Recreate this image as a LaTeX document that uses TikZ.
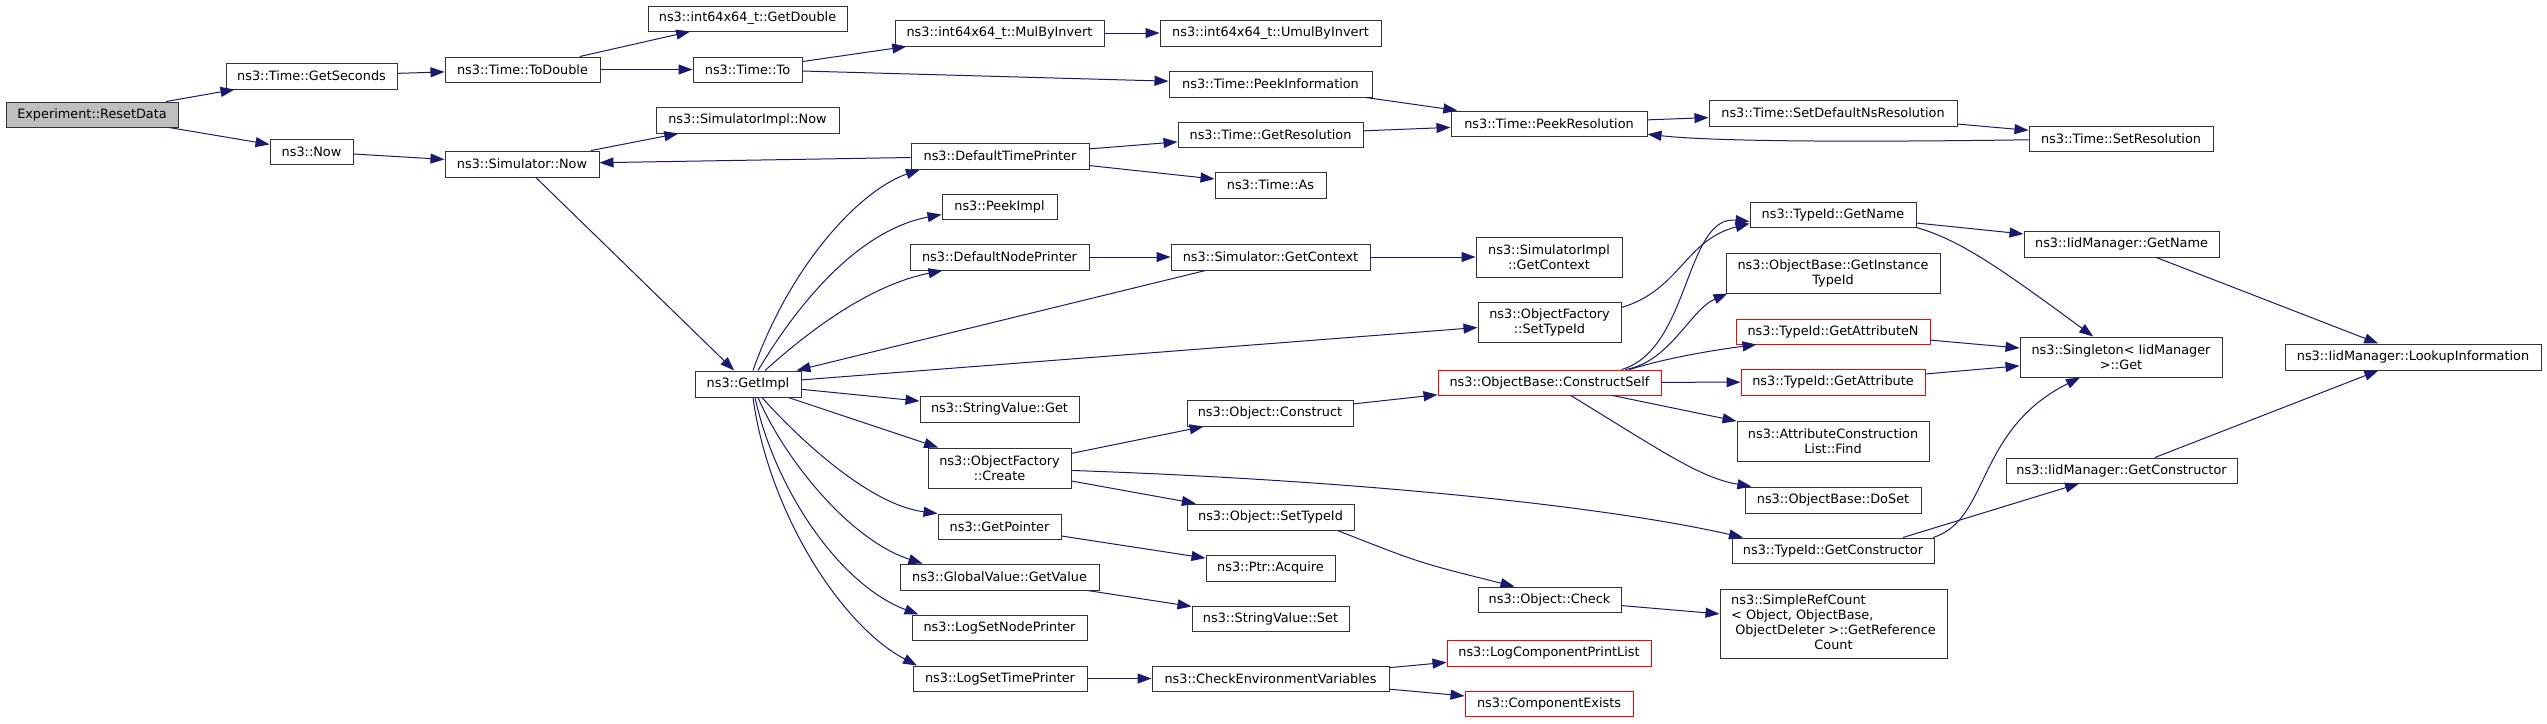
\documentclass[tikz,border=0pt]{standalone}
\usepackage{fontspec}
\setmainfont{DejaVu Sans}
\usetikzlibrary{arrows.meta}
\definecolor{edgeblue}{HTML}{191970}
\definecolor{boxline}{HTML}{333333}
\definecolor{rootfill}{HTML}{BFBFBF}
\begin{document}
\begin{tikzpicture}[x=1pt,y=-1pt,
  box/.style={draw=boxline, line width=1pt, fill=white, inner sep=0pt, align=center,
              font=\fontsize{12.85pt}{15pt}\selectfont},
  redbox/.style={box, draw=red},
  rootbox/.style={box, fill=rootfill},
  wh/.style 2 args={minimum width=#1pt, minimum height=#2pt},
  e/.style={draw=edgeblue, line width=1pt, -{Triangle[length=14pt,width=10pt]}}]
\fill[white] (0,0) rectangle (2547,723);
\useasboundingbox (0,0) rectangle (2547,723);

% nodes
\node[rootbox, wh={172}{25}] (reset) at (92,114.5) {Experiment::ResetData};
\node[box, wh={171}{26}] (getsec) at (311.5,76) {ns3::Time::GetSeconds};
\node[box, wh={83}{25}] (now) at (311.5,151.5) {ns3::Now};
\node[box, wh={199}{25}] (getdouble) at (747.5,18.5) {ns3::int64x64\_t::GetDouble};
\node[box, wh={155}{25}] (todouble) at (522.5,69.5) {ns3::Time::ToDouble};
\node[box, wh={109}{25}] (to) at (747.5,69.5) {ns3::Time::To};
\node[box, wh={183}{26}] (simimplnow) at (747.5,120) {ns3::SimulatorImpl::Now};
\node[box, wh={154}{26}] (simnow) at (522,164) {ns3::Simulator::Now};
\node[box, wh={106}{26}] (getimpl) at (748,384) {ns3::GetImpl};
\node[box, wh={209}{26}] (mulby) at (999.5,33) {ns3::int64x64\_t::MulByInvert};
\node[box, wh={221}{26}] (umul) at (1270.5,33) {ns3::int64x64\_t::UmulByInvert};
\node[box, wh={203}{26}] (peekinfo) at (1270.5,84) {ns3::Time::PeekInformation};
\node[box, wh={185}{25}] (getres) at (1270.5,134.5) {ns3::Time::GetResolution};
\node[box, wh={178}{26}] (dtp) at (1000,156) {ns3::DefaultTimePrinter};
\node[box, wh={111}{26}] (as) at (1270.5,185) {ns3::Time::As};
\node[box, wh={115}{25}] (peekimpl) at (999.5,206.5) {ns3::PeekImpl};
\node[box, wh={179}{26}] (dnp) at (999.5,257) {ns3::DefaultNodePrinter};
\node[box, wh={199}{26}] (simgetctx) at (1270.5,257) {ns3::Simulator::GetContext};
\node[box, wh={196}{25}] (peekres) at (1549,123.5) {ns3::Time::PeekResolution};
\node[box, wh={146}{40}] (simimplgetctx) at (1549,257) {ns3::SimulatorImpl\\::GetContext};
\node[box, wh={143}{40}] (ofsettypeid) at (1549.5,322) {ns3::ObjectFactory\\::SetTypeId};
\node[box, wh={159}{26}] (svget) at (999.5,409) {ns3::StringValue::Get};
\node[box, wh={143}{40}] (ofcreate) at (999.5,468) {ns3::ObjectFactory\\::Create};
\node[box, wh={166}{26}] (objconstruct) at (1270,413) {ns3::Object::Construct};
\node[box, wh={167}{26}] (objsettypeid) at (1270.5,517) {ns3::Object::SetTypeId};
\node[box, wh={123}{25}] (getpointer) at (999.5,526.5) {ns3::GetPointer};
\node[box, wh={129}{26}] (ptracq) at (1270.5,568) {ns3::Ptr::Acquire};
\node[box, wh={199}{26}] (gvgetvalue) at (999.5,577) {ns3::GlobalValue::GetValue};
\node[box, wh={157}{25}] (svset) at (1270.5,618.5) {ns3::StringValue::Set};
\node[box, wh={175}{25}] (lsnp) at (999.5,627.5) {ns3::LogSetNodePrinter};
\node[box, wh={174}{25}] (lstp) at (1000,678.5) {ns3::LogSetTimePrinter};
\node[box, wh={237}{25}] (checkenv) at (1270.5,678.5) {ns3::CheckEnvironmentVariables};
\node[redbox, wh={223}{25}] (constructself) at (1549.5,382.5) {ns3::ObjectBase::ConstructSelf};
\node[box, wh={143}{25}] (objcheck) at (1549.5,599.5) {ns3::Object::Check};
\node[redbox, wh={204}{26}] (lcpl) at (1549,653) {ns3::LogComponentPrintList};
\node[redbox, wh={168}{25}] (compexists) at (1549,703.5) {ns3::ComponentExists};
\node[box, wh={248}{26}] (setdefns) at (1833,113) {ns3::Time::SetDefaultNsResolution};
\node[box, wh={184}{25}] (setres) at (2121,138.5) {ns3::Time::SetResolution};
\node[box, wh={166}{25}] (tgetname) at (1833,214.5) {ns3::TypeId::GetName};
\node[box, wh={195}{26}] (iidgetname) at (2121.5,244) {ns3::IidManager::GetName};
\node[box, wh={214}{40}] (getinstance) at (1833,273) {ns3::ObjectBase::GetInstance\\TypeId};
\node[redbox, wh={194}{25}] (getattrn) at (1833,331.5) {ns3::TypeId::GetAttributeN};
\node[box, wh={202}{40}] (singleton) at (2121,357) {ns3::Singleton< IidManager\\ >::Get};
\node[redbox, wh={184}{26}] (getattr) at (1833,382) {ns3::TypeId::GetAttribute};
\node[box, wh={192}{40}] (acfind) at (1833,441) {ns3::AttributeConstruction\\List::Find};
\node[box, wh={176}{26}] (doset) at (1833,500) {ns3::ObjectBase::DoSet};
\node[box, wh={202}{25}] (tgetctor) at (1833,550.5) {ns3::TypeId::GetConstructor};
\node[box, wh={227}{69}] (simpleref) at (1833.5,623.5) {\begin{tabular}{@{}l@{}}ns3::SimpleRefCount\\< Object, ObjectBase,\\\ ObjectDeleter >::GetReference\\\multicolumn{1}{@{}c@{}}{Count}\end{tabular}};
\node[box, wh={231}{25}] (iidgetctor) at (2121.5,470.5) {ns3::IidManager::GetConstructor};
\node[box, wh={256}{26}] (lookup) at (2413,357) {ns3::IidManager::LookupInformation};

% edges
\draw[e] (reset) -- (getsec);
\draw[e] (reset) -- (now);
\draw[e] (getsec) -- (todouble);
\draw[e] (todouble) -- (getdouble);
\draw[e] (todouble) -- (to);
\draw[e] (to) -- (mulby);
\draw[e] (to) -- (peekinfo);
\draw[e] (mulby) -- (umul);
\draw[e] (peekinfo) -- (peekres);
\draw[e] (getres) -- (peekres);
\draw[e] (peekres) -- (setdefns);
\draw[e] (setdefns) -- (setres);
\draw[e] (setres) .. controls (1800,143) and (1700,140) .. (peekres);
\draw[e] (now) -- (simnow);
\draw[e] (simnow) -- (simimplnow);
\draw[e] (dtp) -- (simnow);
\draw[e] (simnow) -- (getimpl);
\draw[e] ([xshift=5pt]getimpl.north) .. controls (790,265) and (860,190) .. ([xshift=-80pt]dtp.south);
\draw[e] ([xshift=10pt]getimpl.north) .. controls (800,300) and (860,230) .. ([yshift=-8pt]peekimpl.west);
\draw[e] ([xshift=17pt]getimpl.north) .. controls (810,330) and (870,285) .. ([xshift=-57pt]dnp.south);
\draw[e] ([xshift=-65pt]simgetctx.south) -- ([xshift=-5pt]getimpl.north east);
\draw[e] (dnp) -- (simgetctx);
\draw[e] (simgetctx) -- (simimplgetctx);
\draw[e] (dtp) -- (getres);
\draw[e] (dtp) -- (as);
\draw[e] (getimpl) -- (ofsettypeid);
\draw[e] (getimpl) -- (svget);
\draw[e] (getimpl) -- (ofcreate);
\draw[e] ([xshift=14pt]getimpl.south) .. controls (800,440) and (870,505) .. (getpointer.north west);
\draw[e] ([xshift=10pt]getimpl.south) .. controls (785,460) and (850,540) .. ([xshift=-77pt]gvgetvalue.north);
\draw[e] ([xshift=7pt]getimpl.south) .. controls (775,490) and (840,585) .. ([xshift=-81pt]lsnp.north);
\draw[e] ([xshift=5pt]getimpl.south) .. controls (768,510) and (840,625) .. ([xshift=-83pt]lstp.north);
\draw[e] (ofcreate) -- (objconstruct);
\draw[e] (ofcreate) .. controls (1350,480) and (1600,505) .. ([xshift=-90pt]tgetctor.north);
\draw[e] (ofcreate) -- (objsettypeid);
\draw[e] (getpointer) -- (ptracq);
\draw[e] (gvgetvalue) -- (svset);
\draw[e] (lstp) -- (checkenv);
\draw[e] (checkenv) -- (lcpl);
\draw[e] (checkenv) -- (compexists);
\draw[e] (objconstruct) -- (constructself);
\draw[e] ([xshift=67pt]objsettypeid.south) .. controls (1420,563) .. ([xshift=-35pt]objcheck.north);
\draw[e] (objcheck) -- (simpleref);
\draw[e] ([yshift=-6pt]ofsettypeid.north east) .. controls (1680,290) and (1685,240) .. ([yshift=4pt]tgetname.south west);
\draw[e] ([xshift=72pt]constructself.north) .. controls (1690,350) and (1685,215) .. ([yshift=6pt]tgetname.south west);
\draw[e] ([xshift=76pt]constructself.north) .. controls (1670,362) and (1690,310) .. ([xshift=2pt]getinstance.south west);
\draw[e] ([xshift=80pt]constructself.north) .. controls (1660,360) and (1700,352) .. ([xshift=21pt]getattrn.south west);
\draw[e] (constructself) -- (getattr);
\draw[e] (constructself) -- (acfind);
\draw[e] (constructself) .. controls (1660,450) and (1700,478) .. (doset);
\draw[e] (tgetname) -- (iidgetname);
\draw[e] (tgetname.south east) .. controls (1960,240) and (2000,268) .. (singleton);
\draw[e] (getattrn) -- (singleton);
\draw[e] (getattr) -- (singleton);
\draw[e] ([xshift=70pt]tgetctor.north) -- (iidgetctor);
\draw[e] ([xshift=100pt]tgetctor.north) .. controls (1990,520) and (1975,430) .. (singleton);
\draw[e] (iidgetname) -- (lookup);
\draw[e] (iidgetctor) -- (lookup);
\end{tikzpicture}
\end{document}
